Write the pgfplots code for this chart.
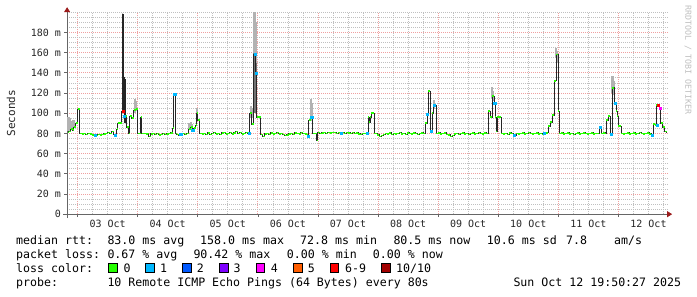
\documentclass[border=0pt]{standalone}
\usepackage{pgfplots}
\usepackage{pgfplotstable}
\pgfplotsset{compat=1.18}
\usepackage{fontspec}
\setmainfont{DejaVu Sans Mono}
\usetikzlibrary{arrows.meta}
\definecolor{lc0}{HTML}{26FF00}
\definecolor{lc1}{HTML}{00B8FF}
\definecolor{lc2}{HTML}{0059FF}
\definecolor{lc3}{HTML}{7E00FF}
\definecolor{lc4}{HTML}{FF00FF}
\definecolor{lc5}{HTML}{FF5E00}
\definecolor{lc6}{HTML}{FF0000}
\definecolor{lc10}{HTML}{A10000}
\definecolor{arrowred}{HTML}{9B1B1B}
\definecolor{majgrid}{HTML}{F0A0A0}
\definecolor{mingrid}{HTML}{C0C0C0}

% median rtt (ms) per 24-minute step, step 0 = 03 Oct 00:00
\pgfplotstableread{
i v
-10 81
-9 82
-7 84
-5 83
-4 86
-2 90
0 104
2 80
4 79.5
6 80
8 79
10 80
12 79.5
14 78.5
16 79
18 78
20 79
22 78.5
24 79
26 79.5
28 80
30 81
32 80
34 82
36 79
38 78.5
39 84
40 90
44 102
47 97
49 86
51 80
52 97
54 95
56 103
58 104
60 80
63 96
64 80
66 80
68 79.5
70 80
71 77
73 79.5
75 80
77 79
79 80
81 78.5
83 79
85 80
87 79
89 79.5
91 80
93 80.5
95 85
96 119
98 80
99 79
101 78
103 79
105 80
107 79
109 80
111 84
113 86
115 83
116 85
118 88
119 100
120 93
122 80
124 79.5
126 80
128 79
130 80.5
132 79
134 80
136 81
138 79.5
140 80
142 79
144 80.5
146 81
148 79.5
150 80
152 81
154 79.5
156 80.5
158 82
160 80
162 81
164 79.5
166 80
168 81
170 80
172 100
174 89
176 158
178 140
179 96
183 79
185 77
187 79.5
189 80
191 79
193 80.5
195 79.5
197 80
199 81
201 79.5
203 80
205 79
207 78
209 78.5
211 79.5
213 80
215 79
217 80.5
219 80
221 79.5
223 81
225 80
227 79.5
229 79
230 77.5
231 93
233 96
235 80
238 80
239 72.8
240 81
242 80
244 80.5
246 81
248 80
250 81
252 80.5
254 81
256 81
258 80
260 81
262 80.5
264 81
266 80
268 81
270 80.5
272 80
274 81
276 80
278 80.5
280 79.5
282 79
284 80
286 80
289 80.5
290 96
291 91
292 96
293 100
296 80
299 78.5
301 77
303 78
305 79
307 80
309 79.5
311 80.5
313 79
315 80
317 79.5
319 80
321 81
323 79.5
325 80
327 79
329 80.5
331 80
333 79.5
335 80.5
337 80
339 79
341 80
343 80.5
345 80
347 90
349 99
350 122
352 82
354 100
355 108
358 80
360 80.5
362 79.5
364 80
366 80.5
368 79
370 78.5
372 77
374 78
376 79.5
378 80
380 79
382 80
384 80.5
386 79.5
388 80
390 79
392 80
394 80.5
396 79.5
398 80
400 81
402 80
404 79.5
406 80.5
408 80
410 102
412 96
414 117
416 110
417 96
418 82
419 96
423 80
425 79.5
427 80
429 79
431 80.5
433 80
435 79
436 78
438 80
440 79.5
442 80
444 80.5
446 79.5
448 80
450 81
452 80
454 79.5
456 80
458 80.5
460 79.5
462 80
464 79
466 80
468 80.5
470 87
472 91
474 98
476 132
478 158
480 102
481 80
483 80.5
485 79.5
487 80
489 80.5
491 79.5
493 80
495 79
497 80
499 80.5
501 79.5
503 80
505 80.5
507 80
509 79.5
511 80
513 80.5
515 79.5
517 80
519 80
521 86
523 80
525 80.5
527 80
528 93
530 97
532 80
533 79
534 125
536 110
538 102
539 97
540 87
543 80
545 79.5
547 80
549 80.5
551 79.5
553 80
555 80.5
557 79.5
559 80
561 81
563 80
565 79.5
567 80
569 80.5
571 79.5
573 79
574 78
575 89
577 88
578 108
581 104.5
582 90
584 86
586 82
588 80.5
}\median

\begin{document}
\begin{tikzpicture}[x=1pt,y=1pt]
\useasboundingbox (0,0) rectangle (697,297);
\begin{axis}[
  at={(67,82)}, anchor=south west,
  scale only axis, width=601pt, height=202pt,
  xmin=-10.4, xmax=589.6, ymin=0, ymax=200,
  axis x line=bottom, axis y line=left,
  axis line style={draw=black!60, line width=0.8pt},
  x axis line style={shorten >=-4pt, shorten <=-4pt, -{Triangle[length=5pt,width=6pt,color=arrowred]}},
  y axis line style={shorten >=-5pt, shorten <=-4pt, -{Triangle[length=5pt,width=6pt,color=arrowred]}},
  xtick={0,60,...,540}, xticklabels={},
  minor xtick={0,15,...,585},
  extra x ticks={30,90,...,570},
  extra x tick labels={03 Oct,04 Oct,05 Oct,06 Oct,07 Oct,08 Oct,09 Oct,10 Oct,11 Oct,12 Oct},
  extra x tick style={grid=none, major tick length=0pt,
     xticklabel style={anchor=base, inner sep=0pt, yshift=-13.3pt}},
  ytick={0,20,...,180},
  yticklabels={0,20 m,40 m,60 m,80 m,100 m,120 m,140 m,160 m,180 m},
  minor ytick={0,5,...,200},
  yticklabel style={anchor=east, inner sep=0pt, xshift=-3pt},
  tick label style={font=\fontsize{10}{12}\selectfont, text=black!85},
  xmajorgrids, xminorgrids, ymajorgrids, yminorgrids,
  major grid style={draw=majgrid, dash pattern=on 1pt off 1pt, line width=0.7pt},
  minor grid style={draw=mingrid, dash pattern=on 1pt off 1pt, line width=0.7pt},
  tick align=outside, major tick length=3pt, minor tick length=0pt,
  tick style={draw=black!60, line width=0.6pt},
  unbounded coords=jump,
]
% light smoke
\addplot[draw=black!30, line width=2.2pt, forget plot] coordinates {
(-9,82)(-9,96)(-9,nan)
(-8,83)(-8,95)(-8,nan)
(-6,83)(-6,92)(-6,nan)
(-4,85)(-4,93)(-4,nan)
(57,100)(57,114)(57,nan)
(58,102)(58,112)(58,nan)
(111,83)(111,90)(111,nan)
(113,84)(113,91)(113,nan)
(114,84)(114,89)(114,nan)
(119,95)(119,105)(119,nan)
(173,95)(173,107)(173,nan)
(174,95)(174,105)(174,nan)
(176,140)(176,200)(176,nan)
(177,143)(177,200)(177,nan)
(178,140)(178,190)(178,nan)
(233,92)(233,114)(233,nan)
(234,94)(234,110)(234,nan)
(356,104)(356,113)(356,nan)
(414,115)(414,126)(414,nan)
(415,112)(415,122)(415,nan)
(478,155)(478,165)(478,nan)
(479,150)(479,162)(479,nan)
(534,120)(534,137)(534,nan)
(535,118)(535,132)
};
% medium smoke
\addplot[draw=black!55, line width=2.2pt, forget plot] coordinates {
(176,100)(176,160)(176,nan)
(177,100)(177,160)(177,nan)
(178,100)(178,150)
};
% dark smoke
\addplot[draw=black!85, line width=1.6pt, forget plot] coordinates {
(45,100)(45,198)(45,nan)
(46,100)(46,198)(46,nan)
(47,90)(47,136)(47,nan)
(48,90)(48,134)
};
% median line
\addplot[const plot mark left, draw=black!85, line width=0.9pt] table[x=i,y=v] {\median};
\addplot[jump mark left, draw=lc0, line width=1.7pt] table[x=i,y=v] {\median};
% loss colour marks
\addplot[only marks, mark=square*, mark size=1.05pt, color=lc1] coordinates {
(18,78)(38,78.5)(47,97)(97,119)(103,79)(115,83)(171,80)(177,158)(178.5,140)
(230,77.5)(233,96)(234.5,96)(263,80.5)(289,80.5)(349.5,99)(353,82)(356,108)
(416.5,110)(436,78)(466,80)(521.5,86)(533,79)(536.5,110)(574,78)(579,88)
};
\addplot[only marks, mark=square*, mark size=1.05pt, color=lc6] coordinates {(45.5,102)(579.5,108)};
\addplot[only marks, mark=square*, mark size=1.05pt, color=lc4] coordinates {(581.5,104.5)};
\end{axis}

\node[rotate=90, font=\fontsize{11}{13}\selectfont, text=black!85] at (11,183.7) {Seconds};
\node[rotate=-90, font=\fontsize{8.3}{10}\selectfont, text=black!25] at (688,237) {RRDTOOL / TOBI OETIKER};

\begin{scope}[every node/.style={anchor=base west, inner sep=0pt, font=\fontsize{11.6}{14}\selectfont, text=black}]
\node at (16,52) {median rtt:};
\node at (107.3,52) {83.0 ms avg};
\node at (200,52) {158.0 ms max};
\node at (300,52) {72.8 ms min};
\node at (393.3,52) {80.5 ms now};
\node at (486.7,52) {10.6 ms sd};
\node at (566,52) {7.8};
\node at (614,52) {am/s};

\node at (16,38) {packet loss:};
\node at (107.3,38) {0.67 \% avg};
\node at (193.3,38) {90.42 \% max};
\node at (286.7,38) {0.00 \% min};
\node at (372.7,38) {0.00 \% now};

\node at (16,24.3) {loss color:};
\node at (123.3,24.3) {0};
\node at (160,24.3) {1};
\node at (196.7,24.3) {2};
\node at (233.5,24.3) {3};
\node at (270.7,24.3) {4};
\node at (307.7,24.3) {5};
\node at (345,24.3) {6-9};
\node at (396,24.3) {10/10};

\node at (16,10.3) {probe:};
\node at (107.3,10.3) {10 Remote ICMP Echo Pings (64 Bytes) every 80s};
\node at (513.3,10.3) {Sun Oct 12 19:50:27 2025};
\end{scope}

\foreach \bx/\bc in {108.7/lc0,145.7/lc1,182.7/lc2,219.3/lc3,256/lc4,293.3/lc5,330/lc6,381.7/lc10}{
  \draw[black, line width=0.6pt, fill=\bc] (\bx,24.5) rectangle ++(8.6,8.8);
}
\end{tikzpicture}
\end{document}
